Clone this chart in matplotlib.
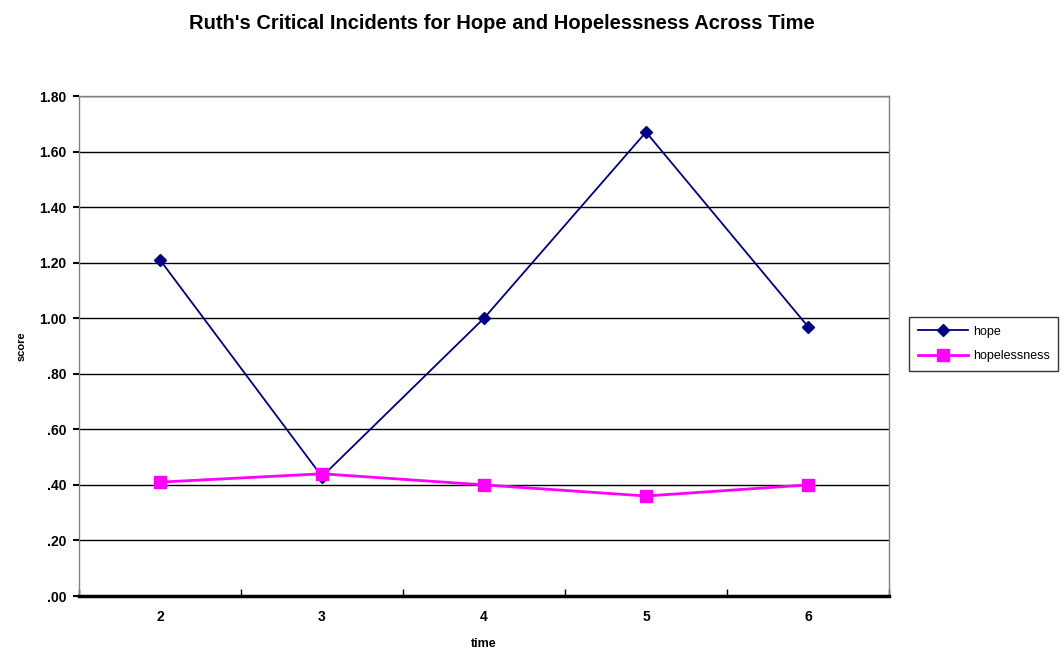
import matplotlib.pyplot as plt

plt.rcParams["font.family"] = ["Liberation Sans", "DejaVu Sans"]

time_points = [2, 3, 4, 5, 6]
hope = [1.21, 0.43, 1.00, 1.67, 0.97]
hopelessness = [0.41, 0.44, 0.40, 0.36, 0.40]
y_ticks = [0.0, 0.2, 0.4, 0.6, 0.8, 1.0, 1.2, 1.4, 1.6, 1.8]
y_tick_labels = [".00", ".20", ".40", ".60", ".80", "1.00", "1.20", "1.40", "1.60", "1.80"]

fig = plt.figure(figsize=(10.64, 6.5), dpi=100)
ax = fig.add_axes([79 / 1064, 54 / 650, 810 / 1064, 500 / 650])

x = list(range(len(time_points)))
ax.plot(x, hope, color="#000080", marker="D", markersize=6, linewidth=1.3, label="hope")
ax.plot(x, hopelessness, color="#FF00FF", marker="s", markersize=8, linewidth=2, label="hopelessness")

ax.set_xlim(-0.5, len(time_points) - 0.5)
ax.set_ylim(0, 1.8)
ax.set_yticks(y_ticks)
ax.set_yticklabels(y_tick_labels, fontsize=10, fontweight="bold")
ax.set_xticks(x)
ax.set_xticklabels([str(t) for t in time_points], fontsize=10, fontweight="bold")
ax.set_xticks([i + 0.5 for i in range(-1, len(time_points))], minor=True)
ax.tick_params(axis="x", which="major", length=0, pad=10)
ax.tick_params(axis="x", which="minor", length=5, direction="in", width=1)
ax.tick_params(axis="y", length=4, width=1.5, direction="out", pad=5)

ax.grid(axis="y", color="black", linewidth=1)
ax.set_axisbelow(True)
for side in ["left", "top", "right"]:
    ax.spines[side].set_color("#808080")
    ax.spines[side].set_linewidth(1)
ax.spines["bottom"].set_color("black")
ax.spines["bottom"].set_linewidth(2.5)

ax.set_xlabel("time", fontsize=9, fontweight="bold", labelpad=10)
ax.set_ylabel("score", fontsize=8, fontweight="bold", labelpad=9)

fig.text(0.472, 0.964, "Ruth's Critical Incidents for Hope and Hopelessness Across Time",
         ha="center", va="center", fontsize=14.5, fontweight="bold")

leg = ax.legend(loc="upper left", bbox_to_anchor=(909 / 1064, 333 / 650), bbox_transform=fig.transFigure,
                frameon=True, fancybox=False, fontsize=9, borderaxespad=0, handlelength=4,
                labelspacing=1.0, borderpad=0.7, handletextpad=0.4)
leg.get_frame().set_edgecolor("black")
leg.get_frame().set_linewidth(1)

fig.savefig("out.png", dpi=100)
